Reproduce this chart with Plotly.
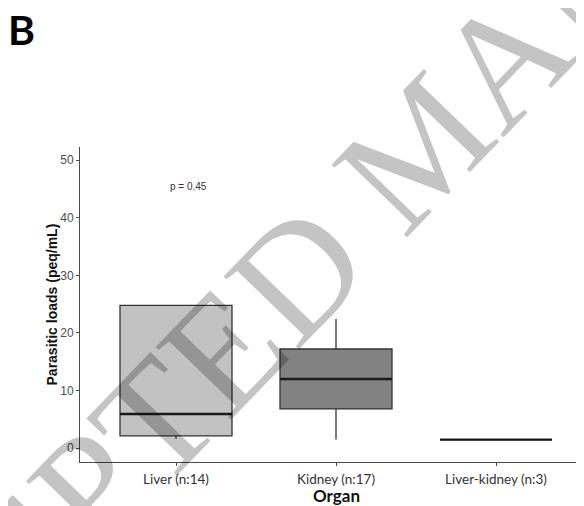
import plotly.graph_objects as go

# ---- data ----
categories = ["Liver (n:14)", "Kidney (n:17)", "Liver-kidney (n:3)"]
cat_pos = [0, 1, 2]
q1 = [2.1, 6.8, 1.45]
median = [5.9, 12.0, 1.45]
q3 = [24.8, 17.2, 1.45]
lower = [1.6, 1.5, 1.45]
upper = [24.8, 22.4, 1.45]
fills = ["#c2c2c2", "#828282", "#c2c2c2"]
y_ticks = [0, 10, 20, 30, 40, 50]
p_label = "p = 0.45"
box_w = 0.7

fig = go.Figure()
for i, c in enumerate(categories):
    fig.add_trace(go.Box(
        x=[cat_pos[i]], q1=[q1[i]], median=[median[i]], q3=[q3[i]],
        lowerfence=[lower[i]], upperfence=[upper[i]],
        width=box_w, fillcolor=fills[i],
        line=dict(color="#333333", width=1.3), whiskerwidth=0,
        boxpoints=False, showlegend=False, hoverinfo="skip"))
    fig.add_trace(go.Scatter(
        x=[cat_pos[i] - box_w / 2, cat_pos[i] + box_w / 2],
        y=[median[i], median[i]], mode="lines",
        line=dict(color="#1a1a1a", width=2.4), showlegend=False, hoverinfo="skip"))

axis_font = dict(family="Liberation Sans, Arial", size=12, color="#4d4d4d")
fig.update_layout(
    width=584, height=506,
    margin=dict(l=72, r=0, t=139, b=52),
    paper_bgcolor="white", plot_bgcolor="white",
    xaxis=dict(range=[-0.6, 2.6], tickvals=cat_pos, ticktext=categories,
               showgrid=False, zeroline=False, showline=True, linecolor="#4a4a4a",
               linewidth=1, ticks="outside", ticklen=3, tickcolor="#4a4a4a",
               ticklabelstandoff=2,
               tickfont=dict(family="Lato, Open Sans", size=13.5, color="#333333")),
    yaxis=dict(range=[-2.43, 52.3], tickvals=y_ticks,
               showgrid=False, zeroline=False, showline=True, linecolor="#4a4a4a",
               linewidth=1, ticks="outside", ticklen=3, tickcolor="#4a4a4a",
               tickfont=axis_font),
    annotations=[
        dict(text="<b>Parasitic loads (peq/mL)</b>", xref="paper", yref="paper",
             x=-0.0547, y=0.5, xanchor="center", yanchor="middle", textangle=-90,
             showarrow=False, font=dict(family="Liberation Sans, Arial", size=14, color="#111111")),
        dict(text="<b>Organ</b>", xref="paper", yref="paper", x=0.5, y=-0.106,
             xanchor="center", yanchor="middle", showarrow=False,
             font=dict(family="Lato, Open Sans", size=17, color="#111111")),
        dict(text=p_label, xref="x", yref="y", x=0.075, y=45.5, showarrow=False,
             xanchor="center", yanchor="middle",
             font=dict(family="Liberation Sans, Arial", size=10, color="#333333")),
        dict(text="<b>B</b>", xref="paper", yref="paper", x=-0.1455, y=1.372,
             xanchor="left", yanchor="middle", showarrow=False,
             font=dict(family="Lato", size=41, color="#000000")),
        dict(text="ACCEPTED MANUSCRIPT", xref="paper", yref="paper",
             x=0.668, y=1.0095, xanchor="center", yanchor="middle", textangle=-46,
             showarrow=False,
             font=dict(family="Liberation Serif, Times New Roman", size=160,
                       color="rgba(0,0,0,0.23)")),
    ],
)
fig.write_html("out.html")
